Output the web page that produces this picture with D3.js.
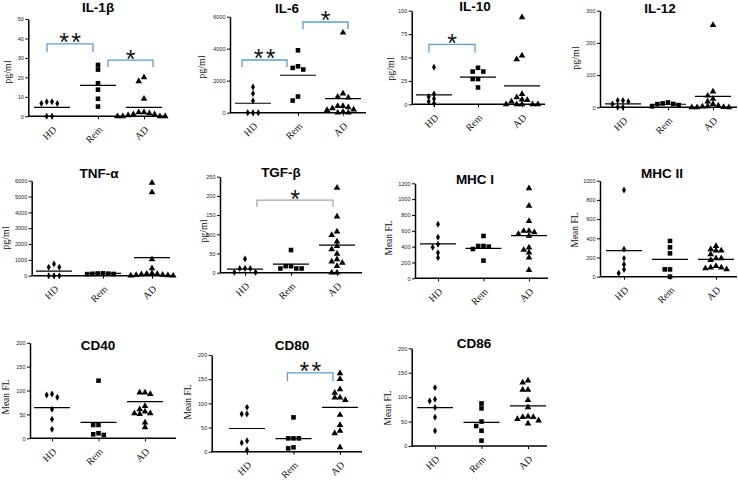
<!DOCTYPE html>
<html><head><meta charset="utf-8">
<script src="https://cdn.jsdelivr.net/npm/d3@7"></script>
<style>body{margin:0;background:#fff}svg{display:block}</style>
</head><body><svg id="c" width="738" height="480"></svg>
<script>
const groups = ["HD", "Rem", "AD"];

const il1bValues = [[7.5, 6.6, 6.6, 7.5, 0, 0], [26.4, 24, 17, 13.7, 9, 5], [20, 18, 9, 2, 1.5, 1, 0.5, 0, 0, 0, 0, 1, 2]];
const il1bMeans = [4.6, 15.9, 4.6];
const il1bTicks = [0, 10, 20, 30, 40, 50];

const il6Values = [[1600, 1200, 750, 0, 0, 0], [3900, 2900, 2800, 2700, 1010, 760], [5000, 1200, 1000, 950, 420, 420, 340, 270, 200, 170, 60, 0, 0]];
const il6Means = [590, 2340, 880];
const il6Ticks = [0, 2000, 4000, 6000];

const il10Values = [[39.5, 11, 8, 6, 3, 1], [39, 35, 35, 27, 27, 18], [93, 52, 48, 11, 7.5, 5, 4.5, 3, 0, 0, 0, 0, 0]];
const il10Means = [10, 29, 19.6];
const il10Ticks = [0, 25, 50, 75, 100];

const il12Values = [[21, 21, 18, 10.5, 0, 0], [15, 12, 10.5, 10, 7, 3], [255, 49, 36, 26, 18, 10, 5, 3, 2, 1, 0, 0, 0]];
const il12Means = [10.5, 9.5, 34];
const il12Ticks = [0, 100, 200, 300];

const tnfValues = [[740, 530, 530, 0, 0, 0], [150, 140, 130, 120, 110, 100], [5870, 5260, 1030, 460, 150, 120, 100, 80, 60, 40, 20, 10, 0]];
const tnfMeans = [290, 150, 1140];
const tnfTicks = [0, 1000, 2000, 3000, 4000, 5000, 6000];

const tgfValues = [[36, 11, 11, 11, 1, 1], [59, 17, 17, 11, 11, 11], [221, 146, 107, 98, 81, 69, 61, 49, 35, 29, 26, 17, 0, 0]];
const tgfMeans = [9.5, 22.5, 72];
const tgfTicks = [0, 50, 100, 150, 200, 250];

const mhc1Values = [[682, 518, 430, 392, 324, 261], [535, 408, 408, 400, 370, 223], [1137, 914, 724, 598, 598, 580, 560, 535, 387, 358, 324, 261, 105]];
const mhc1Means = [434, 379, 539];
const mhc1Ticks = [0, 200, 400, 600, 800, 1000, 1200];

const mhc2Values = [[903, 285, 191, 128, 76, 35], [372, 306, 243, 76, 76, 0], [318, 285, 271, 271, 233, 191, 191, 174, 111, 94, 94, 87, 76]];
const mhc2Means = [271, 181, 181];
const mhc2Ticks = [0, 200, 400, 600, 800, 1000];

const cd40Values = [[92.7, 90.6, 85.7, 60.6, 39.7, 18.8], [120.6, 27.9, 27.9, 10.5, 8.4, 7], [95.5, 95.5, 92.7, 67.6, 60.6, 55.7, 52.3, 52.3, 50.9, 32.8, 23]];
const cd40Means = [64, 33.4, 76.7];
const cd40Ticks = [0, 50, 100, 150, 200];

const cd80Values = [[91.7, 77.9, 77.9, 22.8, 18.6, 3.4], [71, 27.6, 27.6, 27.6, 9, 6.9], [162, 150, 129, 122, 112, 112, 107, 76, 55, 43, 38, 9]];
const cd80Means = [48, 26.9, 91.7];
const cd80Ticks = [0, 50, 100, 150, 200];

const cd86Values = [[119.5, 95.6, 92, 79, 58.7, 31.4], [87, 77, 50, 41, 31.4, 11], [134, 130, 115, 115, 94, 79, 60, 59, 59, 55, 52, 46]];
const cd86Means = [78.5, 48.5, 82];
const cd86Ticks = [0, 50, 100, 150, 200];

const blue = "#5b9bd5", gray = "#a3a3a3";

const panels = [
  {title: "IL-1β", values: il1bValues, means: il1bMeans, ticks: il1bTicks, ylab: "pg/ml",
   x0: 28.3, x1: 167, yTop: 19, yBot: 116.3, cx: [52, 144], tx: 98, ty: 12, lx: 7, ly: 72,
   brackets: [{a: 0, b: 1, da: -5, db: -5, v: 37.2, leg: 8, n: 2, color: blue},
              {a: 1, b: 2, da: 10, db: 9, v: 28.9, leg: 7, n: 1, color: blue}]},
  {title: "IL-6", values: il6Values, means: il6Means, ticks: il6Ticks, ylab: "pg/ml",
   x0: 230, x1: 366, yTop: 16.7, yBot: 112.7, cx: [253, 343], tx: 287, ty: 13, lx: 201.5, ly: 67,
   brackets: [{a: 0, b: 1, da: -11, db: -11, v: 3294, leg: 7, n: 2, color: blue},
              {a: 1, b: 2, da: 5, db: 5, v: 5669, leg: 7, n: 1, color: blue}]},
  {title: "IL-10", values: il10Values, means: il10Means, ticks: il10Ticks, ylab: "pg/ml",
   x0: 411.7, x1: 545, yTop: 10.7, yBot: 104.3, cx: [434, 522], tx: 475, ty: 11, lx: 390, ly: 69,
   brackets: [{a: 0, b: 1, da: -5, db: -3, v: 64, leg: 8, n: 1, color: blue}]},
  {title: "IL-12", values: il12Values, means: il12Means, ticks: il12Ticks, ylab: "pg/ml",
   x0: 600, x1: 737, yTop: 10.7, yBot: 107.3, cx: [623, 713], tx: 660, ty: 13, lx: 575, ly: 58, brackets: []},
  {title: "TNF-α", values: tnfValues, means: tnfMeans, ticks: tnfTicks, ylab: "pg/ml",
   x0: 31.7, x1: 173, yTop: 180.7, yBot: 275.7, cx: [54, 152], tx: 99, ty: 178, lx: 5, ly: 238, brackets: []},
  {title: "TGF-β", values: tgfValues, means: tgfMeans, ticks: tgfTicks, ylab: "pg/ml",
   x0: 220, x1: 362, yTop: 176.7, yBot: 272.7, cx: [245, 337], tx: 281, ty: 177, lx: 203, ly: 231,
   brackets: [{a: 0, b: 2, da: 12, db: -4, v: 189, leg: 6.7, n: 1, color: gray}]},
  {title: "MHC I", values: mhc1Values, means: mhc1Means, ticks: mhc1Ticks, ylab: "Mean FL",
   x0: 415, x1: 548, yTop: 183.3, yBot: 278.3, cx: [438, 529], tx: 475, ty: 184, lx: 389, ly: 238, brackets: []},
  {title: "MHC II", values: mhc2Values, means: mhc2Means, ticks: mhc2Ticks, ylab: "Mean FL",
   x0: 600, x1: 737, yTop: 180.7, yBot: 276.7, cx: [624, 716], tx: 662, ty: 178, lx: 575, ly: 230, brackets: []},
  {title: "CD40", values: cd40Values, means: cd40Means, ticks: cd40Ticks, ylab: "Mean FL",
   x0: 30, x1: 176, yTop: 342.7, yBot: 438.3, cx: [52, 145], tx: 98, ty: 350, lx: 6, ly: 397, brackets: []},
  {title: "CD80", values: cd80Values, means: cd80Means, ticks: cd80Ticks, ylab: "Mean FL",
   x0: 211.7, x1: 362, yTop: 355, yBot: 451.7, cx: [247, 340], tx: 292, ty: 350, lx: 187.5, ly: 402,
   brackets: [{a: 1, b: 2, da: -6, db: -7, v: 163, leg: 8.3, n: 2, color: blue}]},
  {title: "CD86", values: cd86Values, means: cd86Means, ticks: cd86Ticks, ylab: "Mean FL",
   x0: 411.7, x1: 547, yTop: 348.3, yBot: 446, cx: [435, 528], tx: 474, ty: 348, lx: 388, ly: 408, brackets: []}
];

const svg = d3.select("#c");
const shapes = [d3.symbolDiamond, d3.symbolSquare, d3.symbolTriangle];
const sizes = [14, 21, 19];
const S = 5.3;

function dodge(vals, y, cx) {
  const pts = vals.map(v => ({v, py: y(v)})).sort((a, b) => a.py - b.py);
  const placed = [];
  pts.forEach(pt => {
    for (let k = 0; k < 30; k++) {
      const off = k === 0 ? 0 : (k % 2 ? -Math.ceil(k / 2) : Math.ceil(k / 2)) * S;
      const px = cx + off;
      if (!placed.some(q => Math.abs(q.px - px) < S - 0.01 && Math.abs(q.py - pt.py) < S * 0.85)) { pt.px = px; break; }
    }
    placed.push(pt);
  });
  return placed;
}

panels.forEach(p => {
  const g = svg.append("g");
  const y = d3.scaleLinear().domain([0, d3.max(p.ticks)]).range([p.yBot, p.yTop]);
  const x = d3.scalePoint().domain(groups).range(p.cx);

  const yg = g.append("g").attr("transform", `translate(${p.x0},0)`)
    .call(d3.axisLeft(y).tickValues(p.ticks).tickFormat(d3.format("d")).tickSize(3).tickSizeOuter(0).tickPadding(1.5));
  yg.select(".domain").attr("stroke", "#000").attr("stroke-width", 1.5);
  yg.selectAll(".tick line").attr("stroke", "#000").attr("stroke-width", 1);
  yg.selectAll("text").attr("font-family", "Liberation Sans, Arial, sans-serif").attr("font-size", 5.5).attr("fill", "#222");

  g.append("line").attr("x1", p.x0).attr("x2", p.x1).attr("y1", p.yBot).attr("y2", p.yBot)
    .attr("stroke", "#000").attr("stroke-width", 1.6);
  const xg = g.append("g").attr("transform", `translate(0,${p.yBot})`)
    .call(d3.axisBottom(x).tickSize(3).tickSizeOuter(0).tickFormat(""));
  xg.select(".domain").remove();
  xg.selectAll(".tick line").attr("stroke", "#000");
  const lg = g.append("g");
  groups.forEach(d => {
    lg.append("g").attr("transform", `translate(${x(d) + 5},${p.yBot + 14}) rotate(-45)`)
      .append("text").attr("text-anchor", "end")
      .attr("font-family", "Liberation Serif, Times New Roman, serif").attr("font-size", 10).attr("fill", "#111")
      .text(d);
  });

  groups.forEach((gr, i) => {
    const pts = dodge(p.values[i], y, x(gr));
    g.append("g").selectAll("path").data(pts).join("path")
      .attr("d", d3.symbol().type(shapes[i]).size(sizes[i]))
      .attr("transform", d => `translate(${d.px},${d.py})`)
      .attr("fill", "#000");
    g.append("line").attr("x1", x(gr) - 18).attr("x2", x(gr) + 18)
      .attr("y1", y(p.means[i])).attr("y2", y(p.means[i]))
      .attr("stroke", "#000").attr("stroke-width", 1.2);
  });

  g.append("text").attr("x", p.tx).attr("y", p.ty).attr("text-anchor", "middle")
    .attr("font-family", "Liberation Sans, Arial, sans-serif").attr("font-weight", "bold")
    .attr("font-size", 13.5).attr("fill", "#000").text(p.title);

  g.append("text").attr("transform", `translate(${p.lx},${p.ly}) rotate(-90)`)
    .attr("text-anchor", "middle").attr("dy", "0.35em")
    .attr("font-family", "Liberation Serif, Times New Roman, serif").attr("font-size", p.ylab === "pg/ml" ? 10 : 9.5)
    .attr("fill", "#111").text(p.ylab);

  p.brackets.forEach(b => {
    const xa = x(groups[b.a]) + b.da, xb = x(groups[b.b]) + b.db, yv = y(b.v);
    g.append("path").attr("d", `M${xa},${yv + b.leg}V${yv}H${xb}V${yv + b.leg}`)
      .attr("fill", "none").attr("stroke", b.color).attr("stroke-width", 1.3);
    const cxm = (xa + xb) / 2;
    d3.range(b.n).forEach(k => {
      g.append("text").attr("x", cxm + (k - (b.n - 1) / 2) * 12).attr("y", yv - 7 + 14.5)
        .attr("text-anchor", "middle").attr("font-family", "Liberation Sans, Arial, sans-serif")
        .attr("font-size", 25).attr("fill", "#111").text("*");
    });
  });
});
</script></body></html>
